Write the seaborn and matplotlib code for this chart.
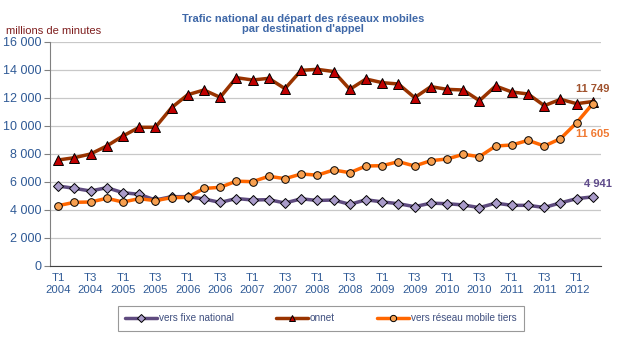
import matplotlib
matplotlib.use("Agg")
import matplotlib.pyplot as plt
import seaborn as sns
import pandas as pd
import numpy as np
from matplotlib.ticker import FuncFormatter, FixedLocator

sns.set_style("white")
plt.rcParams['font.family'] = ['Liberation Sans', 'DejaVu Sans']

quarters = [f"T{q} {y}" for y in range(2004, 2013) for q in range(1, 5)][:34]

fixe = [5714, 5548, 5357, 5595, 5238, 5119, 4714, 4952, 4952,
        4790, 4540, 4820, 4714, 4738, 4500, 4800, 4680, 4714,
        4405, 4730, 4580, 4450, 4238, 4490, 4450, 4360, 4170,
        4490, 4333, 4333, 4180, 4510, 4810, 4941]
onnet = [7571, 7736, 8000, 8571, 9286, 9907, 9907, 11307, 12236,
         12571, 12048, 13452, 13286, 13405, 12667, 13976, 14048, 13890,
         12619, 13357, 13095, 13000, 12024, 12810, 12619, 12571, 11810,
         12857, 12429, 12286, 11452, 11905, 11595, 11749]
mobile = [4310, 4548, 4571, 4833, 4571, 4810, 4667, 4881, 4905,
          5540, 5620, 6060, 6024, 6405, 6240, 6571, 6490, 6857,
          6667, 7143, 7167, 7452, 7143, 7524, 7643, 7976, 7810,
          8571, 8643, 8976, 8571, 9095, 10238, 11605]

series_names = ["vers fixe national", "onnet", "vers réseau mobile tiers"]
tick_labels = [f"T{q}\n{y}" for y in range(2004, 2013) for q in (1, 3)][:17]

df = pd.DataFrame({"x": np.arange(len(quarters)), "quarter": quarters,
                   series_names[0]: fixe, series_names[1]: onnet,
                   series_names[2]: mobile})
long = df.melt(id_vars=["x", "quarter"], var_name="serie", value_name="val")

fig = plt.figure(figsize=(6.18, 3.41), dpi=100)
ax = fig.add_axes([50/618, 1-266/341, 551/618, 224/341])

styles = {
    series_names[0]: dict(color="#5F4B7F", marker="D", mfc="#A99BC9", ms=5.3),
    series_names[1]: dict(color="#993300", marker="^", mfc="#C00000", ms=6.5),
    series_names[2]: dict(color="#FF6600", marker="o", mfc="#F7A050", ms=5.5),
}
handles = []
for name in series_names:
    st = styles[name]
    sub = long[long["serie"] == name]
    sns.lineplot(data=sub, x="x", y="val", ax=ax, color=st["color"], lw=2.5,
                 marker=st["marker"], markersize=st["ms"], markerfacecolor=st["mfc"],
                 markeredgecolor="black", markeredgewidth=0.7, legend=False)
    handles.append(ax.lines[-1])

ax.set_xlim(-0.5, 33.5)
ax.set_ylim(0, 16000)
ax.set_yticks(np.arange(0, 16001, 2000))
ax.yaxis.set_major_formatter(FuncFormatter(lambda v, p: f"{int(v):,}".replace(",", " ")))
ax.grid(axis="y", color="#C8C8C8", lw=0.9)
ax.set_axisbelow(True)
ax.set_xticks(np.arange(0, 34, 2))
ax.set_xticklabels(tick_labels)
ax.xaxis.set_minor_locator(FixedLocator(np.arange(-0.5, 34, 1)))
ax.tick_params(axis="x", which="major", length=0, pad=5, labelsize=8.2, labelcolor="#2F5A96")
ax.tick_params(axis="x", which="minor", length=4, color="#404040", direction="out")
ax.tick_params(axis="y", length=4, color="#808080", direction="out", labelsize=9,
               labelcolor="#2F5A96", pad=2, left=True)
for s in ["top", "right"]:
    ax.spines[s].set_visible(False)
ax.spines["left"].set_color("#808080")
ax.spines["bottom"].set_color("#404040")
ax.set_xlabel("")
ax.set_ylabel("")

fig.text(303/618, 1-14/341, "Trafic national au départ des réseaux mobiles\npar destination d'appel",
         ha="center", va="top", fontsize=8, fontweight="bold", color="#3F68A8",
         linespacing=1.0)
fig.text(6/618, 1-31/341, "millions de minutes", ha="left", va="center",
         fontsize=8, color="#7F1F1F")

ax.text(33, 12250, "11 749", ha="center", va="bottom", fontsize=8, fontweight="bold", color="#A0522D")
ax.text(33, 9800, "11 605", ha="center", va="top", fontsize=8, fontweight="bold", color="#F07830")
ax.text(33.3, 5500, "4 941", ha="center", va="bottom", fontsize=8, fontweight="bold", color="#5F4B8B")

leg = fig.legend(handles, series_names, loc="center", bbox_to_anchor=(321/618, 1-318/341),
                 ncol=3, fontsize=7.2, frameon=True, fancybox=False, edgecolor="#808080",
                 handlelength=3.2, handletextpad=0.2, columnspacing=4.2,
                 borderpad=0.75, labelcolor="#3F4F7F")
leg.get_frame().set_linewidth(0.8)
for h in leg.legend_handles:
    h.set_markersize(4.5)

fig.savefig("out.png", dpi=100)
